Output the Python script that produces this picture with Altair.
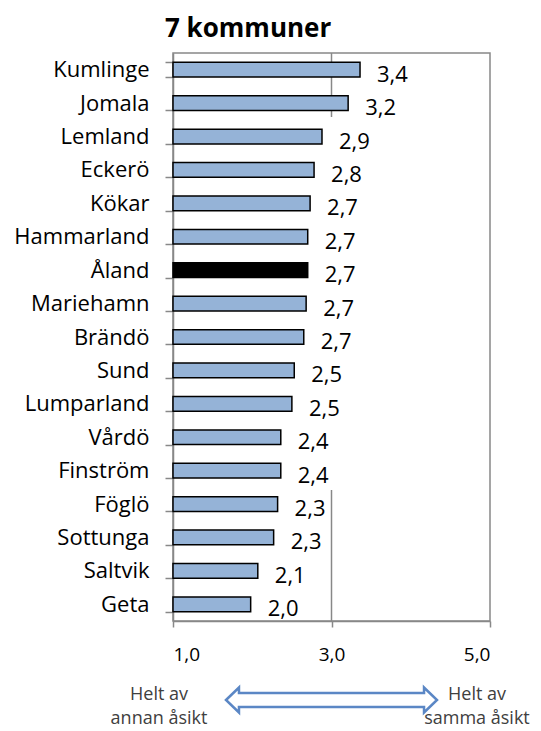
import altair as alt
import pandas as pd

categories = ["Kumlinge", "Jomala", "Lemland", "Eckerö", "Kökar", "Hammarland", "Åland",
              "Mariehamn", "Brändö", "Sund", "Lumparland", "Vårdö", "Finström", "Föglö",
              "Sottunga", "Saltvik", "Geta"]
values = [3.36, 3.21, 2.88, 2.78, 2.73, 2.70, 2.70, 2.68, 2.65, 2.53, 2.50, 2.36, 2.36,
          2.32, 2.27, 2.07, 1.98]
labels = ["3,4", "3,2", "2,9", "2,8", "2,7", "2,7", "2,7", "2,7", "2,7", "2,5", "2,5",
          "2,4", "2,4", "2,3", "2,3", "2,1", "2,0"]
highlight = "Åland"
title_text = "7 kommuner"

x_ticks = [1, 3, 5]
left_text = ["Helt av", "annan åsikt"]
right_text = ["Helt av", "samma åsikt"]

FONT = "Open Sans"
W, H = 317, 568

df = pd.DataFrame({"kommun": categories, "value": values, "label": labels})
df["hl"] = df["kommun"] == highlight

xscale = alt.Scale(domain=[1, 5], nice=False, zero=False)
yscale = alt.Scale(domain=categories, paddingInner=0.56, paddingOuter=0.28)

base = alt.Chart(df)

bars = base.mark_bar(stroke="black", strokeWidth=1.5).encode(
    x=alt.X("value:Q", scale=xscale,
            axis=alt.Axis(values=x_ticks, title=None, grid=False,
                          labelExpr="replace(format(datum.value, '.1f'), '.', ',')",
                          labelFont=FONT, labelFontSize=19, labelColor="black",
                          labelPadding=18, tickSize=6, tickColor="#888888",
                          domainColor="#888888", domainWidth=1.5, tickWidth=1.5)),
    x2=alt.datum(1),
    y=alt.Y("kommun:N", scale=yscale, sort=categories,
            axis=alt.Axis(title=None, tickBand="extent", tickSize=8, tickColor="#888888",
                          tickWidth=1.5, domainColor="#888888", domainWidth=1.5,
                          labelFont=FONT, labelFontSize=22, labelColor="black",
                          labelPadding=16, labelLimit=300)),
    fill=alt.condition("datum.hl", alt.value("black"), alt.value("#95B3D7")),
)

text = base.mark_text(align="left", baseline="middle", dx=17, dy=5,
                      font=FONT, fontSize=22, color="black").encode(
    x=alt.X("value:Q", scale=xscale),
    y=alt.Y("kommun:N", scale=yscale, sort=categories),
    text="label:N",
)

grid_df = pd.DataFrame({"x": [3, 3], "y0": [0, 437], "y1": [64, H]})
grid = alt.Chart(grid_df).mark_rule(color="#888888", strokeWidth=1.5).encode(
    x=alt.X("x:Q", scale=xscale),
    y=alt.Y("y0:Q", scale=None),
    y2="y1:Q",
)

title_df = pd.DataFrame({"t": [title_text]})
title = alt.Chart(title_df).mark_text(font=FONT, fontSize=26, fontWeight="bold",
                                      color="black", align="left",
                                      baseline="alphabetic").encode(
    x=alt.value(-8), y=alt.value(-16), text="t:N")

arrow_path = ("M-1,0 L-0.877,-0.118 L-0.877,-0.066 L0.877,-0.066 L0.877,-0.118 L1,0 "
              "L0.877,0.118 L0.877,0.066 L-0.877,0.066 L-0.877,0.118 Z")
arrow_df = pd.DataFrame({"x": [3]})
arrow = alt.Chart(arrow_df).mark_point(
    shape=arrow_path, size=211 * 211, filled=False, fill="white", fillOpacity=1,
    stroke="#5B87C5", strokeWidth=2.5, opacity=1,
).encode(x=alt.X("x:Q", scale=xscale), y=alt.value(647))

left_df = pd.DataFrame({"x": [1, 1], "t": left_text, "ypix": [647, 671]})
right_df = pd.DataFrame({"x": [5, 5], "t": right_text, "ypix": [647, 671]})


def ann(d, dx):
    return alt.Chart(d).mark_text(font=FONT, fontSize=18, color="#404040",
                                  baseline="alphabetic", align="center", dx=dx).encode(
        x=alt.X("x:Q", scale=xscale),
        y=alt.Y("ypix:Q", scale=None),
        text="t:N",
    )


chart = alt.layer(grid, bars, text, title, arrow, ann(left_df, -14), ann(right_df, -13)).properties(
    width=W, height=H,
    autosize=alt.AutoSizeParams(type="none"),
    padding={"left": 165, "top": 45, "right": 43, "bottom": 110},
).configure_view(stroke="#888888", strokeWidth=1.5)

chart.save("out.html", embed_options={"renderer": "svg", "actions": False})
